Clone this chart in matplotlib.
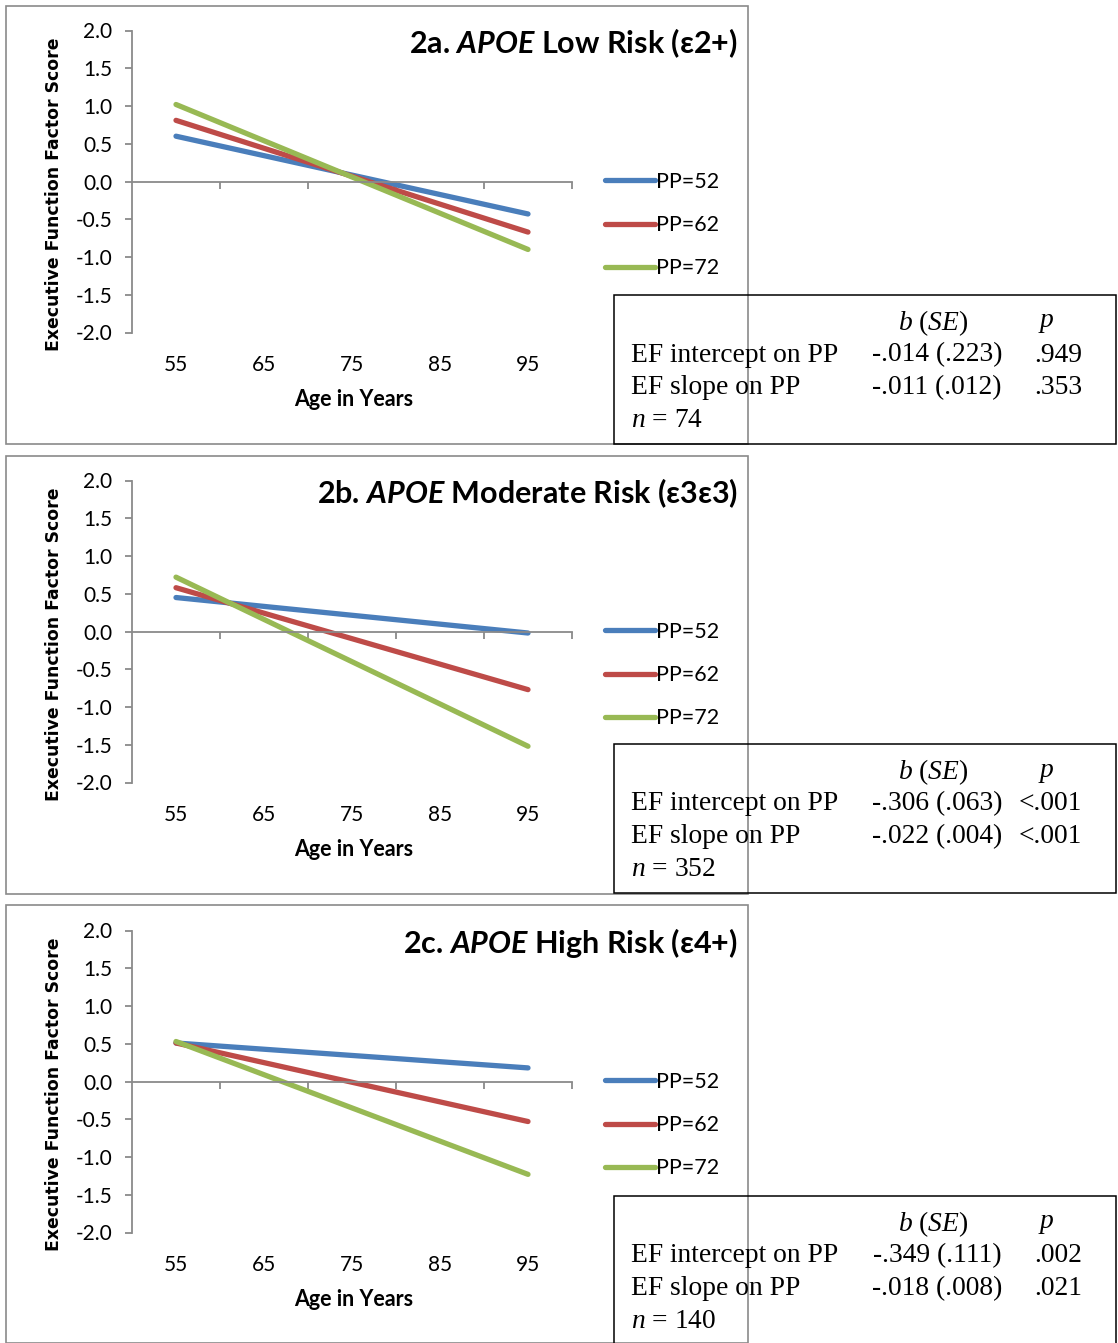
import matplotlib
matplotlib.use('Agg')
import matplotlib.pyplot as plt
from matplotlib.patches import Rectangle
from matplotlib import transforms

plt.rcParams['mathtext.fontset'] = 'custom'
plt.rcParams['mathtext.it'] = 'Liberation Serif:italic'
plt.rcParams['mathtext.sf'] = 'Lato:bold:italic'

# data
ages = [55, 95]
age_ticks = [55, 65, 75, 85, 95]
pp_labels = ['PP=52', 'PP=62', 'PP=72']
colors = ['#4a7ebb', '#be4b48', '#98b954']

titles = ['2a. $\\mathsf{APOE}$ Low Risk (\u03b52+)',
          '2b. $\\mathsf{APOE}$ Moderate Risk (\u03b53\u03b53)',
          '2c. $\\mathsf{APOE}$ High Risk (\u03b54+)']

low_risk = [[0.60, -0.43], [0.81, -0.67], [1.02, -0.90]]
moderate_risk = [[0.45, -0.02], [0.58, -0.77], [0.72, -1.52]]
high_risk = [[0.51, 0.18], [0.51, -0.53], [0.53, -1.23]]

row_labels = ['EF intercept on PP', 'EF slope on PP']
b_se_low = ['-.014 (.223)', '-.011 (.012)']
p_low = ['.949', '.353']
b_se_mod = ['-.306 (.063)', '-.022 (.004)']
p_mod = ['<.001', '<.001']
b_se_high = ['-.349 (.111)', '-.018 (.008)']
p_high = ['.002', '.021']
n_values = [74, 352, 140]

panels = [(titles[0], low_risk, b_se_low, p_low, n_values[0]),
          (titles[1], moderate_risk, b_se_mod, p_mod, n_values[1]),
          (titles[2], high_risk, b_se_high, p_high, n_values[2])]

W, H = 1118, 1343
fig = plt.figure(figsize=(W / 100, H / 100), dpi=100)
fig.patch.set_facecolor('white')

def fx(px):
    return px / W

def fy(py):
    return 1 - py / H

GRAY = '#8a8a8a'
SANS = ['Lato', 'DejaVu Sans']
SERIF = 'Liberation Serif'
TFS = 19.8  # table font size

for k, (title, series, b_se, p_vals, n) in enumerate(panels):
    off = 450 * k

    # chart frame
    fig.patches.append(Rectangle((fx(6), fy(443.5 + off)), fx(742), 438 / H,
                                 transform=fig.transFigure, fill=False,
                                 edgecolor=GRAY, lw=1.2, zorder=1))

    ax = fig.add_axes([fx(132), fy(332.5 + off), fx(440), 302 / H])
    ax.set_xlim(50, 100)
    ax.set_ylim(-2, 2)
    ax.patch.set_alpha(0)
    for s in ['top', 'right']:
        ax.spines[s].set_visible(False)
    ax.spines['left'].set_color(GRAY)
    ax.spines['left'].set_linewidth(1.3)
    ax.spines['bottom'].set_position(('data', 0))
    ax.spines['bottom'].set_color(GRAY)
    ax.spines['bottom'].set_linewidth(1.3)

    ax.set_yticks([-2, -1.5, -1, -0.5, 0, 0.5, 1, 1.5, 2])
    ax.set_yticklabels(['%.1f' % v for v in ax.get_yticks()])
    ax.set_xticks([60, 70, 80, 90, 100])
    ax.set_xticklabels([])
    ax.tick_params(axis='both', direction='out', length=5, width=1.3, color=GRAY)
    ax.tick_params(axis='y', pad=9, labelsize=15)
    for lab in ax.get_yticklabels():
        lab.set_family(SANS)

    trans = transforms.blended_transform_factory(ax.transData, fig.transFigure)
    for a in age_ticks:
        ax.text(a, fy(365 + off), str(a), transform=trans, ha='center', va='center',
                fontsize=15, family=SANS)

    fig.text(fx(354), fy(400 + off), 'Age in Years', ha='center', va='center',
             fontsize=15.5, fontweight='bold', family=SANS)
    fig.text(fx(54), fy(194 + off), 'Executive Function Factor Score', rotation=90,
             ha='center', va='center', fontsize=12.4, fontweight='bold',
             family='DejaVu Sans')

    handles = []
    for vals, lab, c in zip(series, pp_labels, colors):
        h, = ax.plot(ages, vals, color=c, lw=3.8, solid_capstyle='round', label=lab)
        handles.append(h)

    ax.legend(handles=handles, loc='upper left',
              bbox_to_anchor=(fx(605), fy(172 + off)), bbox_transform=fig.transFigure,
              frameon=False, prop={'family': SANS, 'size': 15.5},
              handlelength=2.3, handletextpad=0.08, labelspacing=1.08,
              borderpad=0, borderaxespad=0)

    fig.text(fx(738), fy(43 + off), title, ha='right', va='center',
             fontsize=22, fontweight='bold', family=SANS)

    # statistics box
    top = [295, 744, 1196][k]
    fig.patches.append(Rectangle((fx(614), fy(top + 149)), fx(502), 149 / H,
                                 transform=fig.transFigure, fill=False,
                                 edgecolor='black', lw=1.1, zorder=2))
    fig.text(fx(933), fy(top + 28), '$b$ ($SE$)', ha='center', va='center',
             fontsize=TFS, family=SERIF)
    fig.text(fx(1046), fy(top + 28), '$p$', ha='center', va='center',
             fontsize=TFS, family=SERIF)
    for i in range(2):
        yy = fy(top + 60 + 32.5 * i)
        fig.text(fx(631), yy, row_labels[i], ha='left', va='center',
                 fontsize=TFS, family=SERIF)
        fig.text(fx(1002), yy, b_se[i], ha='right', va='center',
                 fontsize=TFS, family=SERIF)
        fig.text(fx(1082), yy, p_vals[i], ha='right', va='center',
                 fontsize=TFS, family=SERIF)
    fig.text(fx(631), fy(top + 125), '$n$ = %d' % n, ha='left', va='center',
             fontsize=TFS, family=SERIF)

fig.savefig('out.png', dpi=100, facecolor='white')
